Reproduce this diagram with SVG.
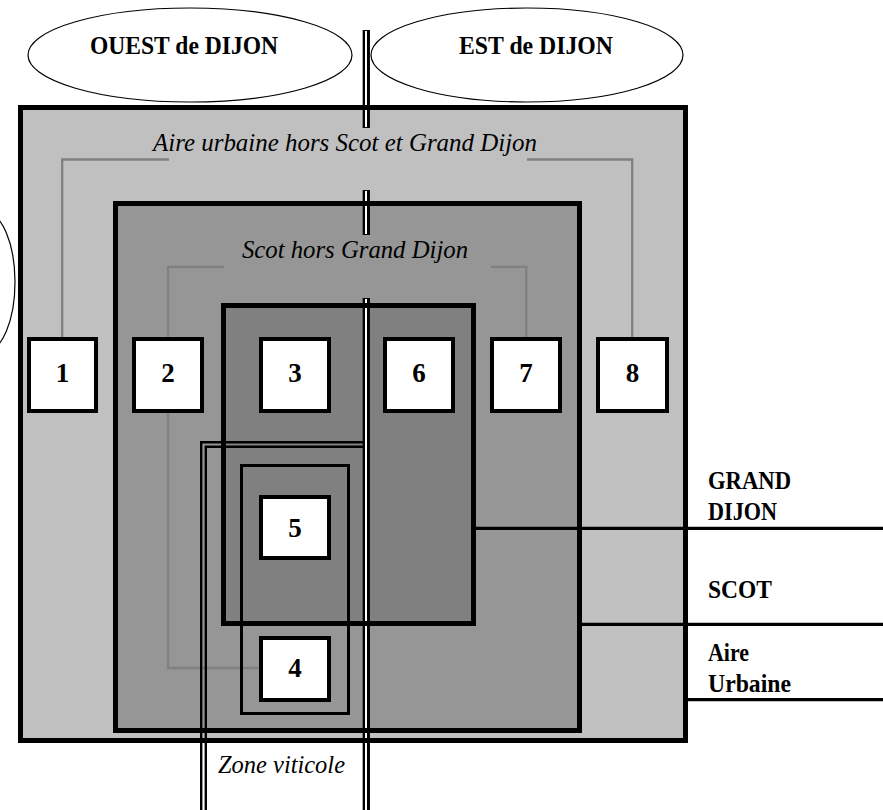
<svg xmlns="http://www.w3.org/2000/svg" width="883" height="810" viewBox="0 0 883 810">
<style>
.ell{fill:#fff;stroke:#000;stroke-width:1.2}
.border{fill:none;stroke:#000;stroke-width:5}
.conn{fill:none;stroke:#808080;stroke-width:2.3}
.dbl{fill:none;stroke:#000;stroke-width:2.4}
.box{fill:#fff;stroke:#000;stroke-width:4}
.num{font-family:"Liberation Serif","Times New Roman",serif;font-weight:bold;font-size:27px;text-anchor:middle;fill:#000}
.hd{font-family:"Liberation Serif","Times New Roman",serif;font-weight:bold;font-size:25px;fill:#000}
.it{font-family:"Liberation Serif","Times New Roman",serif;font-style:italic;font-size:25px;fill:#000}
.rl{fill:none;stroke:#000;stroke-width:3.2}
</style>
<rect width="883" height="810" fill="#fff"/>
<g id="ouest"><ellipse class="ell" cx="190" cy="55" rx="162" ry="47"/><text class="hd" x="90" y="54" textLength="188" lengthAdjust="spacingAndGlyphs">OUEST de DIJON</text></g>
<g id="est"><ellipse class="ell" cx="527" cy="55" rx="156" ry="47"/><text class="hd" x="459" y="54" textLength="154" lengthAdjust="spacingAndGlyphs">EST de DIJON</text></g>
<g id="left-ellipse"><ellipse class="ell" cx="-15" cy="282" rx="30" ry="70"/></g>
<g id="aire-urbaine-fill"><rect x="20.5" y="107.5" width="665" height="633" fill="#c0c0c0"/></g>
<g id="scot-fill"><rect x="115.5" y="203.5" width="464" height="527" fill="#969696"/></g>
<g id="grand-dijon-fill"><rect x="223.5" y="305.5" width="250" height="318" fill="#808080"/></g>
<g id="connectors">
<path class="conn" d="M62.2 339 V159.5 H169"/>
<path class="conn" d="M527 159.5 H632.2 V339"/>
<path class="conn" d="M168 339 V266.8 H224"/>
<path class="conn" d="M491 266.8 H526.2 V339"/>
<path class="conn" d="M168 413 V668 H261"/>
<path class="rl" d="M476 528.4 H883"/>
<path class="rl" d="M582 624.4 H883"/>
<path class="rl" d="M688 699.7 H883"/>
</g>
<g id="zone-viticole-lines">
<path class="dbl" d="M201.2 810 V442.2 H364"/>
<path class="dbl" d="M205.8 810 V446.8 H364"/>
<g stroke="#000" stroke-width="7.3"><path d="M366.3 30 V128"/><path d="M366.3 190 V235"/><path d="M366.3 298 V810"/></g>
<g stroke="#fff" stroke-width="2"><path d="M366 31 V127"/><path d="M366 191 V234"/><path d="M366 299 V810"/></g>
</g>
<g id="borders">
<rect class="border" x="20.5" y="107.5" width="665" height="633"/>
<rect class="border" x="115.5" y="203.5" width="464" height="527"/>
<rect class="border" x="223.5" y="305.5" width="250" height="318"/>
<rect x="241.5" y="465.5" width="107" height="248" fill="none" stroke="#000" stroke-width="3"/>
</g>
<g id="labels">
<text class="it" x="153" y="151" textLength="384" lengthAdjust="spacingAndGlyphs">Aire urbaine hors Scot et Grand Dijon</text>
<text class="it" x="242" y="258" textLength="226" lengthAdjust="spacingAndGlyphs">Scot hors Grand Dijon</text>
<text class="it" x="218" y="773" textLength="127" lengthAdjust="spacingAndGlyphs" font-size="24">Zone viticole</text>
<text class="hd" x="708" y="489" textLength="83" lengthAdjust="spacingAndGlyphs">GRAND</text>
<text class="hd" x="708" y="520" textLength="69" lengthAdjust="spacingAndGlyphs">DIJON</text>
<text class="hd" x="708" y="598" textLength="64" lengthAdjust="spacingAndGlyphs">SCOT</text>
<text class="hd" x="708" y="661" textLength="41" lengthAdjust="spacingAndGlyphs">Aire</text>
<text class="hd" x="708" y="692" textLength="83" lengthAdjust="spacingAndGlyphs">Urbaine</text>
</g>
<g id="box1"><rect class="box" x="29" y="339" width="67" height="72"/><text class="num" x="62.5" y="382">1</text></g>
<g id="box2"><rect class="box" x="134" y="339" width="68" height="72"/><text class="num" x="168" y="382">2</text></g>
<g id="box3"><rect class="box" x="261" y="339" width="68" height="72"/><text class="num" x="295" y="382">3</text></g>
<g id="box6"><rect class="box" x="385" y="339" width="68" height="72"/><text class="num" x="419" y="382">6</text></g>
<g id="box7"><rect class="box" x="492" y="339" width="68" height="72"/><text class="num" x="526" y="382">7</text></g>
<g id="box8"><rect class="box" x="598" y="339" width="69" height="72"/><text class="num" x="632.5" y="382">8</text></g>
<g id="box5"><rect class="box" x="261" y="497" width="68" height="61"/><text class="num" x="295" y="537">5</text></g>
<g id="box4"><rect class="box" x="261" y="638" width="68" height="62"/><text class="num" x="295" y="677">4</text></g>
</svg>
